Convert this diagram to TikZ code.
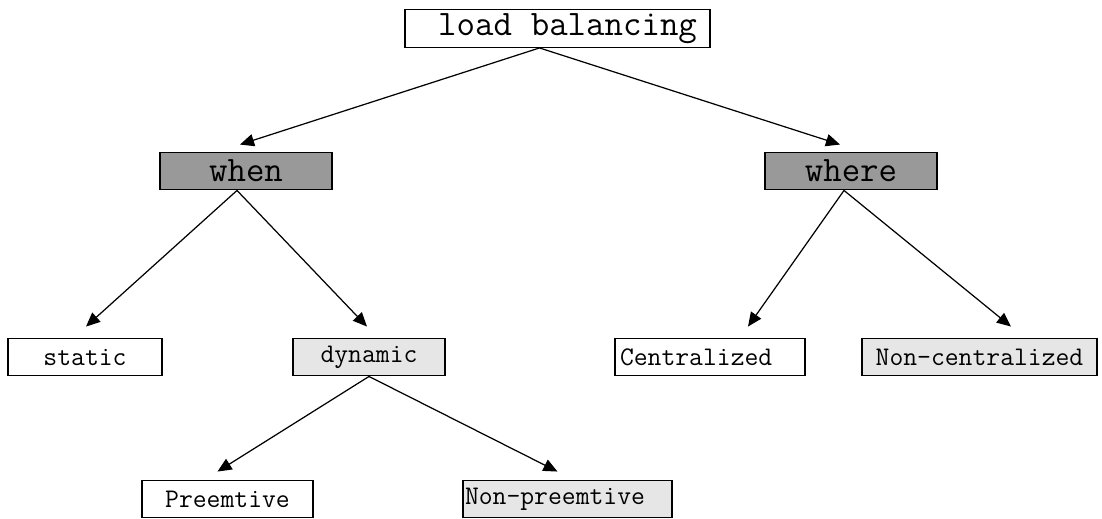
\documentclass[tikz,border=0pt]{standalone}
\usepackage{fontspec}
\usetikzlibrary{arrows.meta}
\definecolor{darkbox}{RGB}{153,153,153}
\definecolor{lightbox}{RGB}{230,230,230}
\begin{document}
\begin{tikzpicture}[x=0.02cm,y=-0.02cm,
    box/.style={draw,line width=0.8pt,inner sep=0pt,minimum height=0.75cm,font=\ttfamily\fontsize{15.3}{17}\selectfont},
    bigbox/.style={box,font=\ttfamily\fontsize{20.4}{22}\selectfont},
    arr/.style={line width=0.7pt,-{Triangle[length=8pt,width=7pt]}}]
\useasboundingbox (0,0) rectangle (1102,518);
\node [bigbox,minimum width=6.1cm,text width=5.58cm,align=right] (lb) at (557.5,28.5) {load\hspace{0.525em}balancing};
\node [bigbox,fill=darkbox,minimum width=3.44cm] (when) at (246,171) {when};
\node [bigbox,fill=darkbox,minimum width=3.44cm] (where) at (851,171) {where};
\node [box,minimum width=3.08cm] (static) at (85,357) {static};
\node [box,fill=lightbox,minimum width=3.04cm] (dynamic) at (369,357) {dynamic};
\node [box,minimum width=3.8cm,text width=3.6cm,align=left] (central) at (710,357) {Centralized};
\node [box,fill=lightbox,minimum width=4.7cm] (noncentral) at (979.5,357) {Non-centralized};
\node [box,minimum width=3.42cm] (preemtive) at (227.5,499) {Preemtive};
\node [box,fill=lightbox,minimum width=4.18cm,text width=4.1cm,align=left] (nonpreemtive) at (567.5,499) {Non-preemtive};
\draw [arr] ([shift={(-18,0)}]lb.south) -- ([shift={(-6,-7)}]when.north);
\draw [arr] ([shift={(-18,0)}]lb.south) -- ([shift={(-11,-7)}]where.north);
\draw [arr] ([shift={(-9,0)}]when.south) -- ([shift={(1,-11)}]static.north);
\draw [arr] ([shift={(-9,0)}]when.south) -- ([shift={(-2,-11)}]dynamic.north);
\draw [arr] ([shift={(-7,0)}]where.south) -- ([shift={(38,-11)}]central.north);
\draw [arr] ([shift={(-7,0)}]where.south) -- ([shift={(31.5,-11)}]noncentral.north);
\draw [arr] (dynamic.south) -- ([shift={(-10,-8)}]preemtive.north);
\draw [arr] (dynamic.south) -- ([shift={(-10,-8)}]nonpreemtive.north);
\end{tikzpicture}
\end{document}
